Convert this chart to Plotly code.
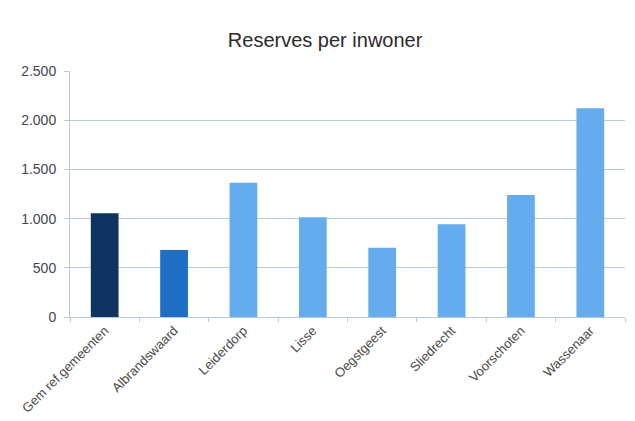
import plotly.graph_objects as go

categories = ["Gem ref.gemeenten", "Albrandswaard", "Leiderdorp", "Lisse",
              "Oegstgeest", "Sliedrecht", "Voorschoten", "Wassenaar"]
values = [1055, 681, 1365, 1013, 704, 942, 1240, 2121]
bar_colors = ["#0f3462", "#1e6fc4", "#64acee", "#64acee",
              "#64acee", "#64acee", "#64acee", "#64acee"]
y_ticks = [0, 500, 1000, 1500, 2000, 2500]

fig = go.Figure(go.Bar(x=categories, y=values, marker_color=bar_colors,
                       marker_line_width=0, width=0.4))

fig.update_layout(
    width=635, height=421,
    paper_bgcolor="white", plot_bgcolor="white",
    margin=dict(l=70, r=10, t=71, b=104, autoexpand=False),
    separators=",.",
    showlegend=False,
    title=dict(text="Reserves per inwoner", x=0.512, xanchor="center",
               y=0.905, yanchor="middle",
               font=dict(family="Liberation Sans, Arial", size=20, color="#2b2b2b")),
    font=dict(family="Liberation Sans, Arial", color="#404040"),
)
fig.update_xaxes(
    tickangle=-45, tickfont=dict(size=13, color="#4a4a4a"),
    showline=True, linecolor="#b8c8d8", linewidth=1,
    ticks="outside", ticklen=4, tickcolor="#b8c8d8",
    tickson="boundaries", showgrid=False, automargin=False,
)
fig.update_yaxes(
    range=[0, 2500], tickvals=y_ticks, tickformat=",d",
    tickfont=dict(size=14, color="#414654"),
    showgrid=True, gridcolor="#b9cadb", gridwidth=1,
    showline=True, linecolor="#b8c8d8", linewidth=1,
    ticks="outside", ticklen=5, tickcolor="#b8c8d8",
    ticklabelstandoff=5,
    zeroline=False, automargin=False,
)

fig.write_html("out.html", config={"displayModeBar": False},
               post_script="document.body.style.margin='0';")
